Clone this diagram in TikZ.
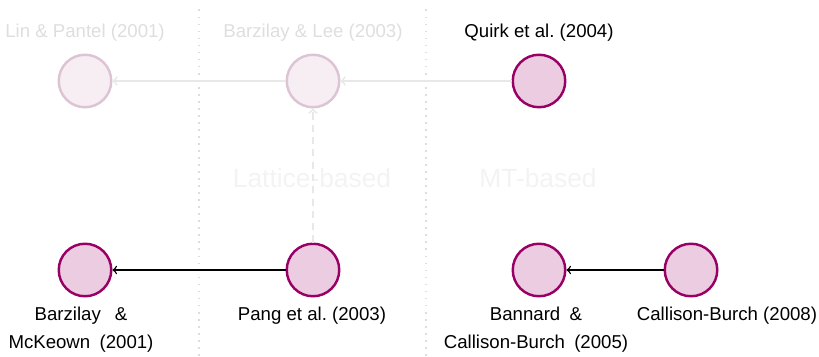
\documentclass[tikz,border=0pt]{standalone}
\usepackage{fontspec}
\setmainfont{Liberation Sans}
\usepackage{tikz}
\usetikzlibrary{positioning}

\definecolor{paperpurple}{RGB}{153,0,102}
\definecolor{paperfill}{RGB}{236,204,224}
\definecolor{oldpurple}{RGB}{221,196,212}
\definecolor{oldfill}{RGB}{246,238,243}
\definecolor{oldtext}{RGB}{222,222,222}
\definecolor{oldline}{RGB}{232,232,232}
\definecolor{areatext}{RGB}{243,243,243}
\definecolor{sepgray}{RGB}{221,221,221}

\newcommand{\wgap}{\hspace{0.5em}}

\begin{document}
\frenchspacing
\begin{tikzpicture}[semithick,
    paper/.style={circle,draw=paperpurple,fill=paperfill,line width=1.4pt,minimum size=1.05cm,inner sep=0pt},
    oldpaper/.style={paper,draw=oldpurple,fill=oldfill},
    cite/.style={font=\fontsize{10.6}{15.9}\selectfont,inner sep=0pt,align=center},
    oldcite/.style={cite,text=oldtext},
    area/.style={font=\fontsize{15}{18}\selectfont,text=areatext,inner sep=0pt}]
    \useasboundingbox (0,0) rectangle (16.38,7.14);

    % separators between the groups
    \draw[sepgray,line width=0.8pt,dash pattern=on 1pt off 3pt] (3.98,6.95) -- (3.98,0);
    \draw[sepgray,line width=0.8pt,dash pattern=on 1pt off 3pt] (8.52,6.95) -- (8.52,0);
    \node[area] (lattice) at (6.24,3.58) {Lattice-based};
    \node[area] (mt) at (10.76,3.58) {MT-based};

    % papers
    \node[oldpaper] (lin) at (1.7,5.52) {};
    \node[oldpaper] (barlee) at (6.26,5.52) {};
    \node[paper] (quirk) at (10.78,5.52) {};
    \node[paper] (barmck) at (1.7,1.74) {};
    \node[paper] (pang) at (6.26,1.74) {};
    \node[paper] (bannard) at (10.78,1.74) {};
    \node[paper] (callison) at (13.82,1.74) {};

    \node[oldcite] (linlab) at (1.7,6.48) {Lin \& Pantel (2001)};
    \node[oldcite] (barleelab) at (6.26,6.48) {Barzilay \& Lee (2003)};
    \node[cite] (quirklab) at (10.78,6.48) {Quirk et al. (2004)};
    \node[cite] (barmcklab) at (1.62,0.54) {Barzilay\hspace{0.75em}\&\\McKeown\wgap(2001)};
    \node[cite] (panglab) at (6.24,0.82) {Pang et al. (2003)};
    \node[cite] (bannardlab) at (10.72,0.54) {Bannard\wgap\&\\Callison-Burch\wgap(2005)};
    \node[cite] (callisonlab) at (14.54,0.82) {Callison-Burch (2008)};

    % links
    \draw[->,oldline,line width=1pt] (quirk) -- (barlee);
    \draw[->,oldline,line width=1pt] (barlee) -- (lin);
    \draw[->,oldline,line width=1pt,dash pattern=on 4pt off 3pt] (pang) -- (barlee);
    \draw[->,black,line width=0.8pt] (pang) -- (barmck);
    \draw[->,black,line width=0.8pt] (callison) -- (bannard);
\end{tikzpicture}
\end{document}
